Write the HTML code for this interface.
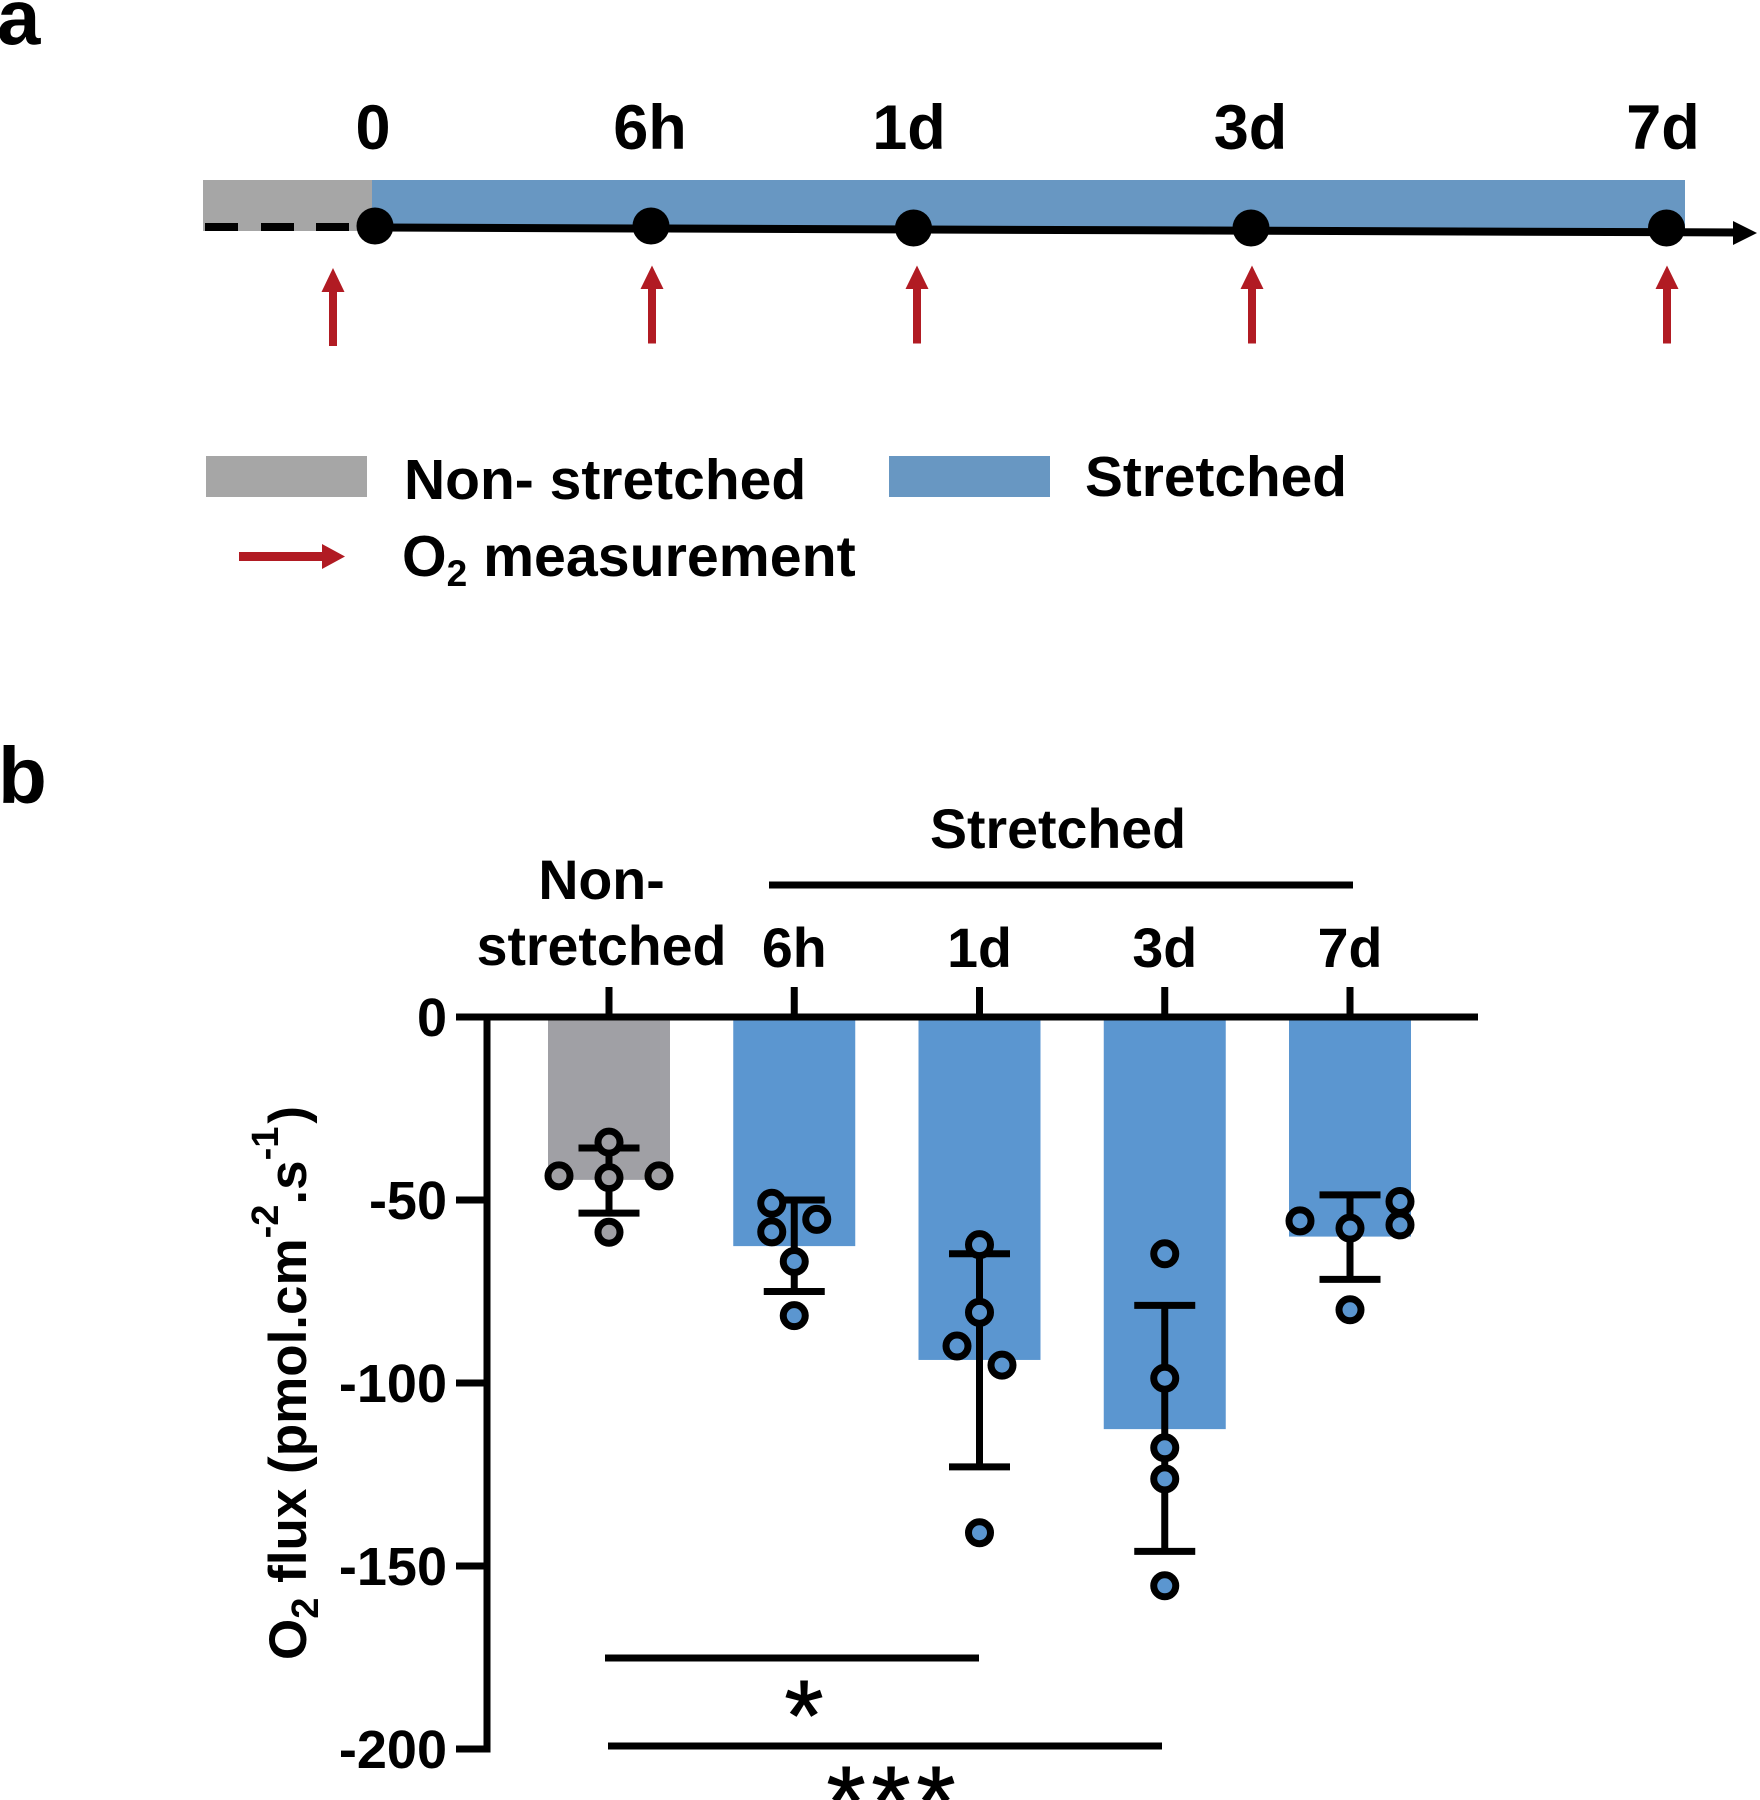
<!DOCTYPE html>
<html lang="en">
<head>
<meta charset="utf-8">
<title>O2 flux after stretching</title>
<style>
  html, body { margin: 0; padding: 0; background: #fff; }
  svg { display: block; font-family: "Liberation Sans", Arial, sans-serif; font-weight: bold; }
</style>
</head>
<body>
<svg id="figure" xmlns="http://www.w3.org/2000/svg" width="1760" height="1800" viewBox="0 0 1760 1800">
  <rect x="0" y="0" width="1760" height="1800" fill="#ffffff"/>

  <g>
    <text x="-3" y="44" font-size="78">a</text>
    <rect x="203" y="180" width="169" height="51" fill="#a6a6a6"/>
    <polygon points="372,180 1685,180 1685,232 372,230" fill="#6897c2"/>
    <g fill="#000">
      <rect x="205" y="223" width="33" height="8"/>
      <rect x="261" y="223" width="33" height="8"/>
      <rect x="316" y="223" width="33" height="8"/>
    </g>
    <line x1="380" y1="227.5" x2="1745" y2="232.5" stroke="#000" stroke-width="8"/>
    <polygon points="1733,221 1757,233 1733,245" fill="#000"/>
    <g fill="#000">
      <circle cx="375" cy="226" r="18.5"/>
      <circle cx="651" cy="226" r="18.5"/>
      <circle cx="913.5" cy="228" r="18.5"/>
      <circle cx="1251" cy="228" r="18.5"/>
      <circle cx="1666.5" cy="228" r="18.5"/>
    </g>
    <g font-size="63" text-anchor="middle" fill="#000">
      <text x="373" y="149">0</text>
      <text x="650" y="149">6h</text>
      <text x="909" y="149">1d</text>
      <text x="1250.5" y="149">3d</text>
      <text x="1663" y="149">7d</text>
    </g>
    <g fill="#b11b23">
      <polygon points="329,346 337,346 337,292 344.5,292 333,268 321.5,292 329,292"/>
      <polygon points="648,343.5 656,343.5 656,289 663.5,289 652,265.5 640.5,289 648,289"/>
      <polygon points="913,343.5 921,343.5 921,289 928.5,289 917,265.5 905.5,289 913,289"/>
      <polygon points="1248,343.5 1256,343.5 1256,289 1263.5,289 1252,265.5 1240.5,289 1248,289"/>
      <polygon points="1663,343.5 1671,343.5 1671,289 1678.5,289 1667,265.5 1655.5,289 1663,289"/>
    </g>
    <g>
      <rect x="206" y="456" width="161" height="41" fill="#a6a6a6"/>
      <text x="404" y="499" font-size="57" fill="#000">Non- stretched</text>
      <rect x="889" y="456" width="161" height="41" fill="#6897c2"/>
      <text x="1085" y="496" font-size="56.8" fill="#000">Stretched</text>
      <polygon points="239,552 322,552 322,544 345,556.5 322,569 322,561 239,561" fill="#b11b23"/>
      <text x="402" y="576" font-size="57.3" fill="#000">O<tspan font-size="37" dy="10">2</tspan><tspan dy="-10"> measurement</tspan></text>
    </g>
  </g>

  <g id="panel-b">
    <text x="-2" y="803" font-size="80">b</text>
  </g>
</svg>

<script>
const categories = ['Non-stretched', '6h', '1d', '3d', '7d'];
const categoryLabelLines = [['Non-', 'stretched'], ['6h'], ['1d'], ['3d'], ['7d']];
const barMeans = [-44.5, -62.6, -93.7, -112.6, -60];
const errorUpper = [-35.8, -50, -64.7, -78.8, -48.6];
const errorLower = [-53.6, -75, -122.9, -146, -71.7];
const pointValues = [
  [-34.2, -43.4, -43.9, -43.4, -58.8],
  [-50.9, -58.7, -55.3, -66.8, -81.6],
  [-62.2, -89.9, -80.7, -95.1, -140.9],
  [-64.7, -98.7, -117.7, -126.2, -155.4],
  [-55.7, -57.7, -50.4, -56.8, -80]
];
const pointSlots = [
  [0, -1, 0, 1, 0],
  [-0.45, -0.45, 0.45, 0, 0],
  [0, -0.45, 0, 0.45, 0],
  [0, 0, 0, 0, 0],
  [-1, 0, 1, 1, 0]
];
const yTicks = [0, -50, -100, -150, -200];
const barColors = ['#a0a0a5', '#5b96d0', '#5b96d0', '#5b96d0', '#5b96d0'];

const NS = 'http://www.w3.org/2000/svg';
const panel = document.getElementById('panel-b');

function yScale(v) { return 1017 - v * 3.66; }
function xScale(i) { return 609 + i * 185.25; }
function slotOffset(s) { return s * 50; }

function make(tag, attrs, parent) {
  const el = document.createElementNS(NS, tag);
  Object.keys(attrs).forEach(function (k) { el.setAttribute(k, attrs[k]); });
  (parent || panel).appendChild(el);
  return el;
}

/* bars */
categories.forEach(function (c, i) {
  const el = make('rect', {
    x: xScale(i) - 61, y: yScale(0),
    width: 122, height: yScale(barMeans[i]) - yScale(0),
    fill: barColors[i]
  });
  
  
});

/* y axis */
const yAxis = make('line', { x1: 487, x2: 487, y1: yScale(0), y2: yScale(-200) + 3.5, stroke: '#000', 'stroke-width': 7 });



yTicks.forEach(function (t) {
  const mark = make('line', { x1: 456, x2: 487, y1: yScale(t), y2: yScale(t), stroke: '#000', 'stroke-width': 7 });
  
  
  const lab = make('text', { x: 447, y: yScale(t) + 19, 'text-anchor': 'end', 'font-size': 54, fill: '#000' });
  lab.textContent = String(t);
  
  
});

/* x axis */
const xAxis = make('line', { x1: 456, x2: 1478, y1: yScale(0), y2: yScale(0), stroke: '#000', 'stroke-width': 7 });



categories.forEach(function (c, i) {
  const mark = make('line', { x1: xScale(i), x2: xScale(i), y1: 987, y2: yScale(0), stroke: '#000', 'stroke-width': 7 });
  
  
  const lines = categoryLabelLines[i];
  lines.forEach(function (line, k) {
    const baseline = lines.length === 2 ? 899 + k * 66 : 967;
    const lab = make('text', { x: xScale(i) - (lines.length === 2 ? 7.5 : 0), y: baseline, 'text-anchor': 'middle', 'font-size': 55.5, fill: '#000' });
    lab.textContent = line;
    
    
  });
});

/* error bars */
categories.forEach(function (c, i) {
  const cx = xScale(i);
  const stem = make('line', { x1: cx, x2: cx, y1: yScale(errorUpper[i]), y2: yScale(errorLower[i]), stroke: '#000', 'stroke-width': 7 });
  
  
  const top = make('line', { x1: cx - 30.5, x2: cx + 30.5, y1: yScale(errorUpper[i]), y2: yScale(errorUpper[i]), stroke: '#000', 'stroke-width': 7 });
  
  
  const bottom = make('line', { x1: cx - 30.5, x2: cx + 30.5, y1: yScale(errorLower[i]), y2: yScale(errorLower[i]), stroke: '#000', 'stroke-width': 7 });
  
  
});

/* data points */
pointValues.forEach(function (vals, i) {
  vals.forEach(function (v, k) {
    const pt = make('circle', {
      cx: xScale(i) + slotOffset(pointSlots[i][k]), cy: yScale(v), r: 11,
      fill: barColors[i], stroke: '#000', 'stroke-width': 7
    });
    
    
  });
});
</script>

<svg xmlns="http://www.w3.org/2000/svg" width="1760" height="1800" viewBox="0 0 1760 1800" style="position:absolute;left:0;top:0;pointer-events:none">
  <text x="1058" y="848" font-size="55.5" text-anchor="middle" fill="#000">Stretched</text>
  <line x1="769" x2="1353" y1="885" y2="885" stroke="#000" stroke-width="7"/>
  <text transform="translate(306 1660) rotate(-90)" font-size="53" fill="#000">O<tspan font-size="38" dy="12">2</tspan><tspan dy="-12"> flux (pmol.cm</tspan><tspan font-size="38" dy="-28">-2</tspan><tspan dy="28">.s</tspan><tspan font-size="38" dy="-28">-1</tspan><tspan dy="28" dx="3">)</tspan></text>
  <line x1="605" x2="979" y1="1658" y2="1658" stroke="#000" stroke-width="7"/>
  <text x="804" y="1750" font-size="100" text-anchor="middle" fill="#000" stroke="#000" stroke-width="1" style="font-weight:normal">*</text>
  <line x1="608" x2="1162" y1="1746" y2="1746" stroke="#000" stroke-width="7"/>
  <text x="894" y="1836" font-size="100" text-anchor="middle" letter-spacing="6" fill="#000" stroke="#000" stroke-width="1" style="font-weight:normal">***</text>
</svg>
</body>
</html>
